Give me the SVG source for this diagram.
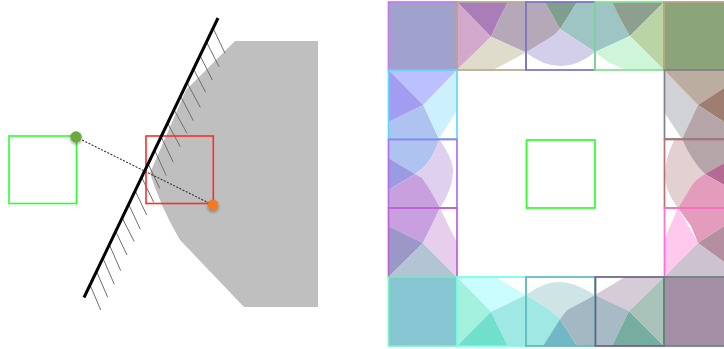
<svg xmlns="http://www.w3.org/2000/svg" width="724" height="349" viewBox="0 0 724 349">
<defs>
<filter id="soft" x="-5%" y="-5%" width="110%" height="110%"><feGaussianBlur stdDeviation="0.3"/></filter>
<filter id="shadow" x="-60%" y="-60%" width="220%" height="220%"><feDropShadow dx="0" dy="1.5" stdDeviation="1.5" flood-color="#000" flood-opacity="0.4"/></filter>
</defs>
<style>
.box{fill:none;stroke-width:1.7}
.hatch{stroke:#6e6e6e;stroke-width:1;fill:none}
</style>
<rect width="724" height="349" fill="#fff"/>
<g id="scene" filter="url(#soft)">
<path d="M235,41L318,41L318,307L244,307L180,240Q161,208 150,173L186,90Z" fill="#bfbfbf"/>
<g id="hatches" class="hatch">
<path d="M90.5,286L100.7,310M97,272.5L107.7,297.3M103.3,259L114.3,284.3M109.7,245.5L120.7,270.7M116,232L127,255M122.5,218.5L134.3,241.7M129,205L140.3,229.3M135.5,191.5L146.7,215M142,178L153.7,202.3M148.5,164.5L159.7,188.3M155,151L166.3,175.7M161.5,137.5L173.3,162.3M168,124L180.3,146.7M174.5,110.5L187,133.3M181,97L193.3,120.7M187.5,83.5L200.3,107.3M194,70L205.7,92.3M200.5,56.5L212.3,80M207,43L219,66.7M213.5,29L225,53.3"/>
</g>
<rect id="left-green" x="9" y="136" width="67.5" height="67.5" fill="none" stroke="#2cff2c" stroke-width="1.6"/>
<rect id="left-red" x="146" y="136" width="67.3" height="67.5" fill="none" stroke="#ff2c2c" stroke-width="1.6"/>
<line x1="84" y1="297.5" x2="218" y2="18" stroke="#000" stroke-width="3"/>
<line x1="76" y1="137" x2="213" y2="205" stroke="#333" stroke-width="1.1" stroke-dasharray="2 1.5"/>
<circle cx="76" cy="137" r="5.7" fill="#6aa93f" filter="url(#shadow)"/>
<circle cx="213" cy="205" r="5.4" fill="#f27a22" filter="url(#shadow)"/>
</g>
<g id="tiles" filter="url(#soft)">
<rect x="388.5" y="2" width="68.5" height="68" fill="#a1a1ce"/>
<rect x="664" y="2" width="68" height="68" fill="#8ca47a"/>
<rect x="388.5" y="277" width="68.5" height="69" fill="#86c6d3"/>
<rect x="664" y="277" width="68" height="69" fill="#a58fa6"/>

<path d="M457,2L508,2Q498,20 491,36.7Z" fill="#a87db8"/>
<path d="M508,2L526,2L526,52.5L491,36.7Q498,20 508,2Z" fill="#b5a8b8"/>
<path d="M457,2L491,36.7L457,70Z" fill="#d2a8cc"/>
<path d="M491,36.7L526,52.5L493,70L457,70Z" fill="#e0dccc"/>

<path d="M526,2L545,2L560,29Q557,33 553,36L526,52.5Z" fill="#b5a8b8"/>
<path d="M545,2L577,2Q568,17 560,29Z" fill="#7f9e8c"/>
<path d="M577,2L595,2L595,52L560,29Q568,17 577,2Z" fill="#9fc4c4"/>
<path d="M526,52.5L553,36Q557,33 560,29L595,52Q578,66 561,66Q543,66 526,52.5Z" fill="#d3cfea"/>

<path d="M595,2L612,2Q620,20 630,36L595,52Z" fill="#9fc4c4"/>
<path d="M612,2L664,2L630,36Q620,20 612,2Z" fill="#8e9f90"/>
<path d="M664,2L664,70L630,36Z" fill="#bad4a6"/>
<path d="M595,52L630,36L664,70L626,70L608,62Z" fill="#cff5d8"/>

<path d="M388.5,70L457,70L423.3,105Z" fill="#bdc0ff"/>
<path d="M388.5,70L423.3,105L388.5,122Z" fill="#a29df0"/>
<path d="M388.5,122L423.3,105L439,139L388.5,139Z" fill="#aec3f0"/>
<path d="M457,70L457,110L439,139L423.3,105Z" fill="#cdf0ff"/>

<path d="M388.5,139L439,139Q435,155 424,167L415,174L388.5,158Z" fill="#aec3f0"/>
<path d="M388.5,158L415,174L388.5,190Z" fill="#9a9be0"/>
<path d="M439,139Q454,160 453,173Q452,190 440,208Q431,190 422,178L415,174L424,167Q435,155 439,139Z" fill="#e0d0f0"/>
<path d="M388.5,190L415,174L422,178Q431,190 440,208L388.5,208Z" fill="#c8a0dd"/>

<path d="M388.5,208L440,208Q432,225 423,243L388.5,226Z" fill="#c8a0e0"/>
<path d="M388.5,226L423,243L388.5,277Z" fill="#9b98c8"/>
<path d="M388.5,277L423,243L457,277Z" fill="#b3c5d4"/>
<path d="M440,208L457,243L457,277L423,243Q432,225 440,208Z" fill="#e7ceec"/>

<path d="M457,277L495,277L526,295L491,311.7Z" fill="#cafdfd"/>
<path d="M457,277L491,311.7L457,346Z" fill="#a2f0de"/>
<path d="M457,346L491,311.7L508,346Z" fill="#70e0cc"/>
<path d="M508,346L491,311.7L526,295L526,346Z" fill="#9fe8e4"/>

<path d="M526,295Q543,282 559,282Q575,282 595,295L567,310L560,319L550,310Z" fill="#cfe5e5"/>
<path d="M526,295L550,310L560,319L543,346L526,346Z" fill="#9fe8e4"/>
<path d="M543,346L560,319L577,346Z" fill="#70b8c4"/>
<path d="M577,346L560,319L567,310L595,295L595,346Z" fill="#a4b8c4"/>

<path d="M595,295L625,277L664,277L629,311Z" fill="#d6ccd8"/>
<path d="M595,295L629,311L612,346L595,346Z" fill="#a7bac6"/>
<path d="M612,346L629,311L664,346Z" fill="#75aea0"/>
<path d="M664,277L664,346L629,311Z" fill="#aac3ba"/>

<path d="M664,70L698,105L682,139L664,112Z" fill="#d0d2d6"/>
<path d="M664,70L724,70L724,88L698,105Z" fill="#bbada0"/>
<path d="M698,105L724,88L724,122Z" fill="#9e7e70"/>
<path d="M698,105L724,122L724,139L682,139Z" fill="#b5a4a8"/>

<path d="M675,139L682,139Q692,162 705,174Q695,180 692,185L678,208Q664,190 665,173Q666,155 675,139Z" fill="#e3d0d0"/>
<path d="M682,139L724,139L724,163L705,174Q692,162 682,139Z" fill="#b5a4a8"/>
<path d="M705,174L724,163L724,185Z" fill="#b56b93"/>
<path d="M678,208L692,185Q695,180 705,174L724,185L724,208Z" fill="#e39cbb"/>

<path d="M678,208L698,243L664,277L664,240Z" fill="#ffc8ec"/>
<path d="M678,208L724,208L724,226L698,243L691,226Z" fill="#e39cbb"/>
<path d="M698,243L724,226L724,262Z" fill="#b58f9f"/>
<path d="M664,277L698,243L724,262L724,277Z" fill="#cdc2d0"/>
</g>
<g id="tile-borders" class="box">
<rect x="388.5" y="2" width="68.5" height="68" stroke="#c878e8"/>
<rect x="457" y="2" width="69" height="68" stroke="#b8a88c"/>
<rect x="526" y="2" width="69" height="68" stroke="#7a70c8"/>
<rect x="595" y="2" width="69" height="68" stroke="#80e090"/>
<rect x="664" y="2" width="68" height="68" stroke="#c0a080"/>
<rect x="388.5" y="70" width="68.5" height="69" stroke="#60d8ff"/>
<rect x="664.5" y="70" width="68" height="69" stroke="#808088"/>
<rect x="388.5" y="139.5" width="68.5" height="68.5" stroke="#b070e8"/>
<rect x="664.5" y="139.5" width="68" height="68.5" stroke="#b87070"/>
<rect x="388.5" y="208" width="68.5" height="69" stroke="#c060d8"/>
<rect x="664.5" y="208" width="68" height="69" stroke="#ff70d0"/>
<rect x="388.5" y="277" width="68.5" height="69" stroke="#80f0c0"/>
<rect x="457" y="277" width="69" height="69" stroke="#70ffe8"/>
<rect x="526" y="277" width="69" height="69" stroke="#60b8b8"/>
<rect x="595.5" y="277" width="68.5" height="69" stroke="#706080"/>
<rect x="664" y="277" width="68" height="69" stroke="#608878"/>
<rect id="center-green" x="526.5" y="140" width="68.5" height="68" stroke="#2cff2c"/>
</g>
</svg>
